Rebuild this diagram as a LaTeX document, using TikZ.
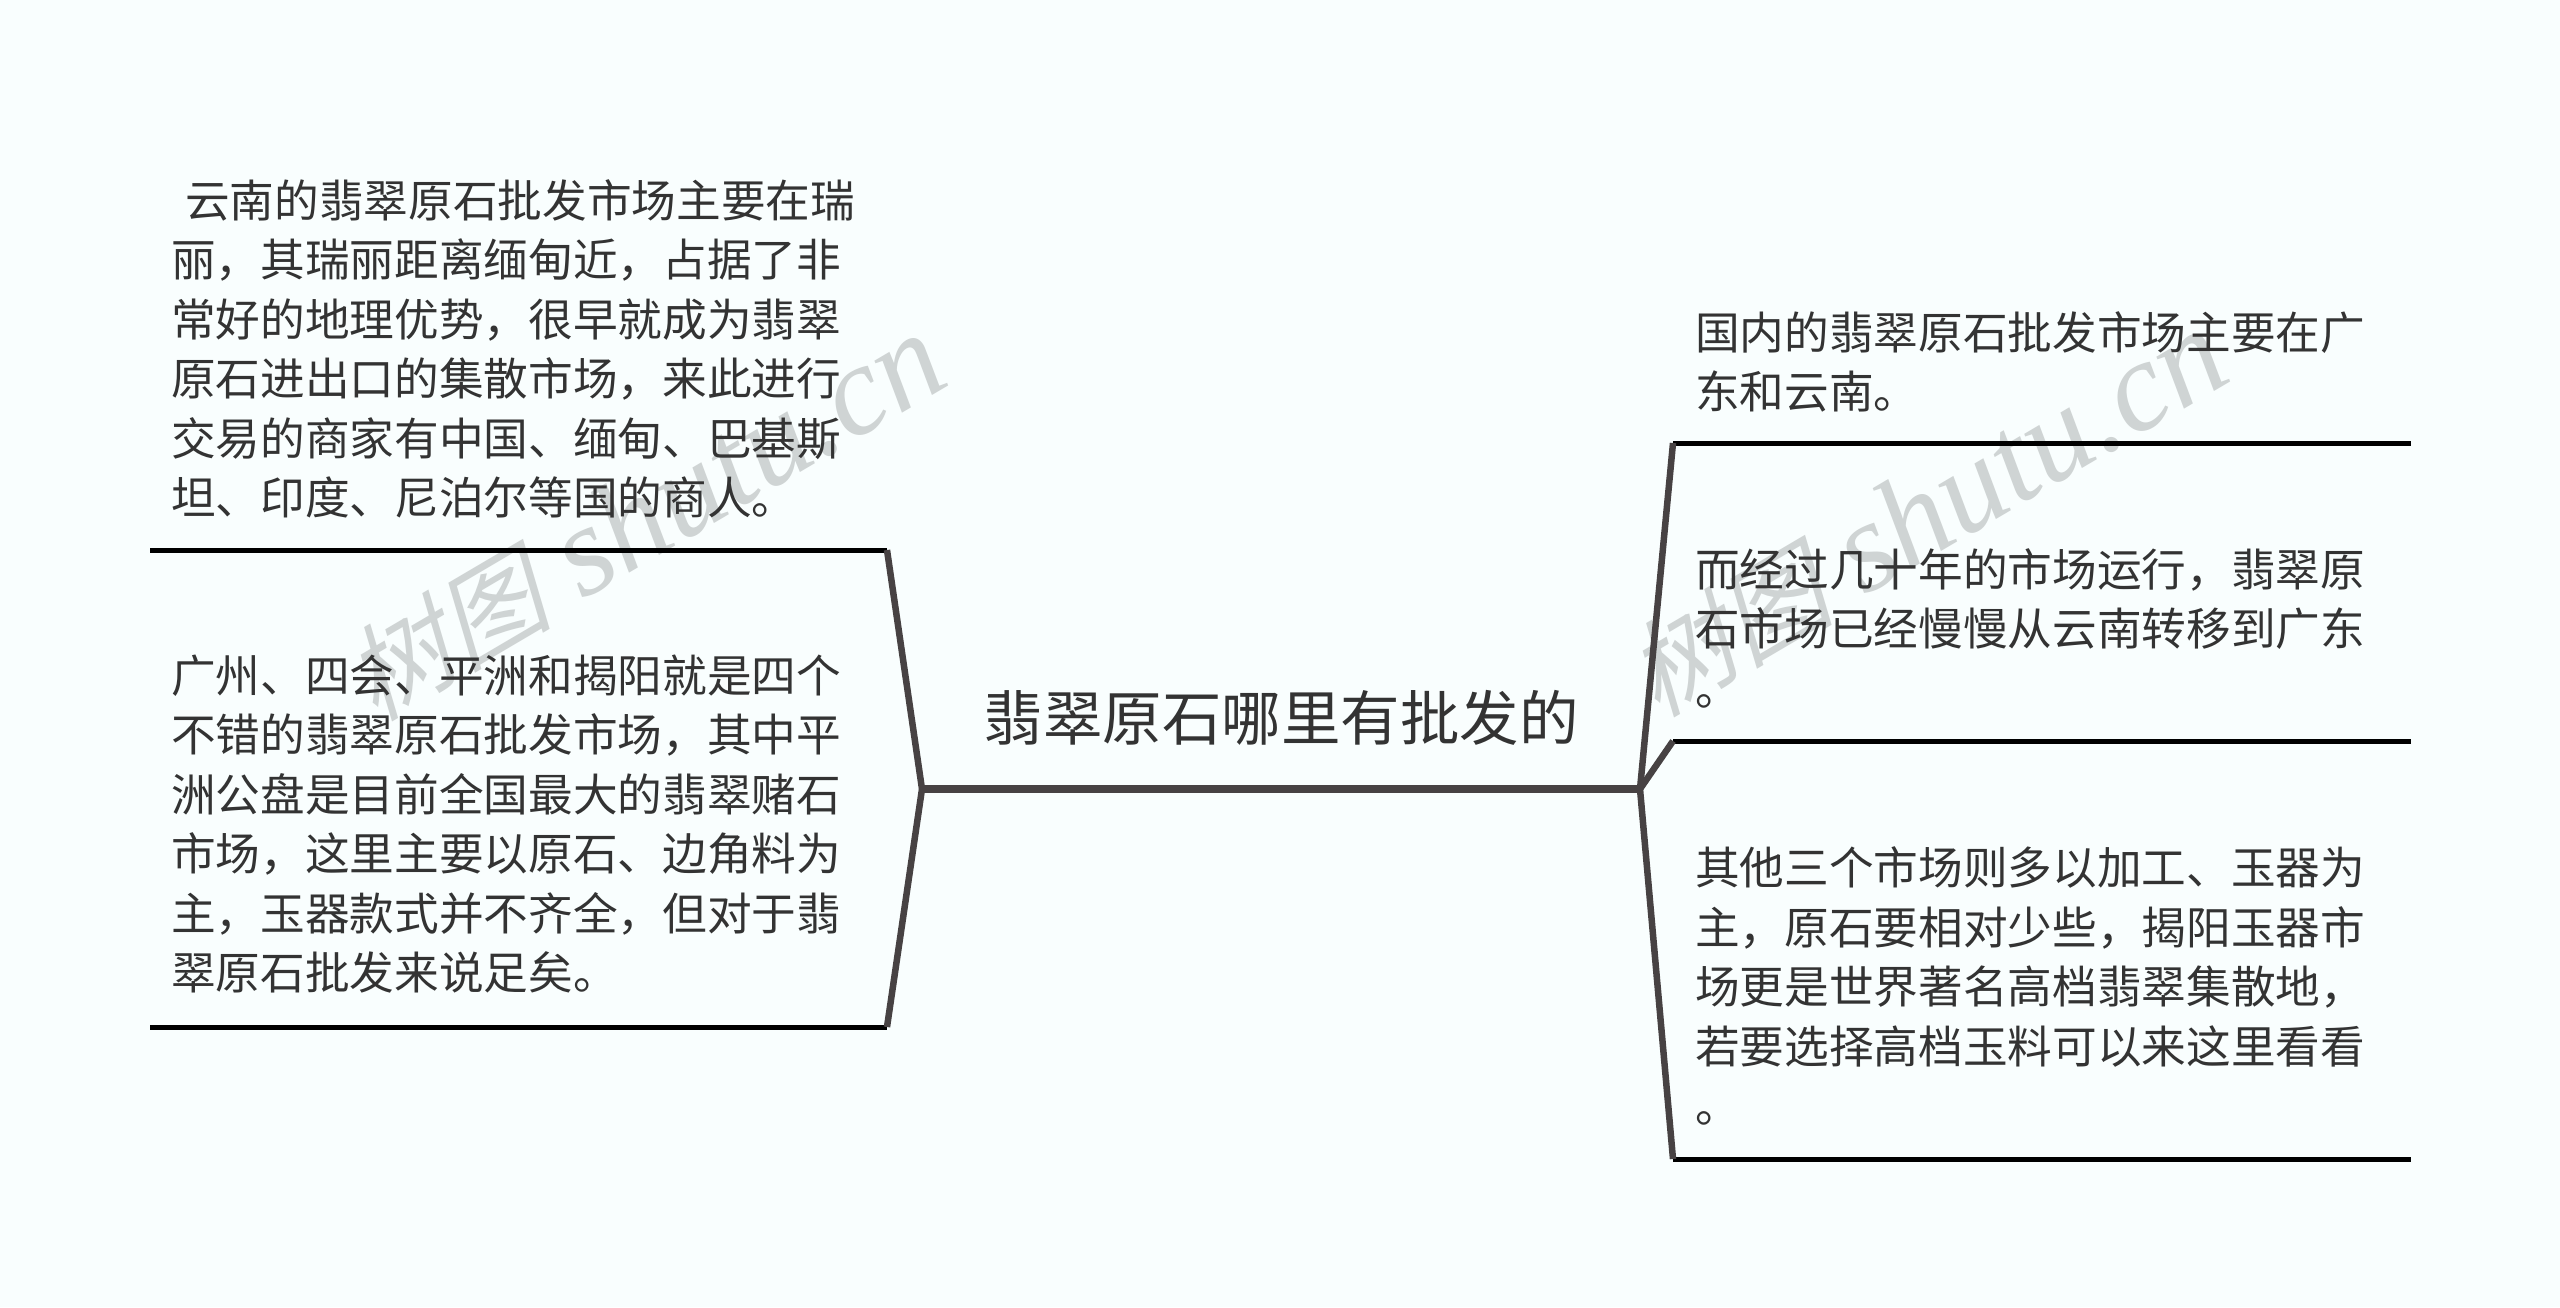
\documentclass[tikz,border=0pt]{standalone}
\usepackage{fontspec}
\setmainfont{Liberation Serif}
\newfontfamily\cjk{Noto Sans CJK SC}
\newfontfamily\cjkslant[FakeSlant=0.25]{Noto Sans CJK SC}
\definecolor{bgc}{HTML}{F9FEFE}
\definecolor{txt}{HTML}{333333}
\definecolor{branchc}{HTML}{474243}
\definecolor{wm}{HTML}{CFD4D4}
\tikzset{
  leaf/.style={anchor=west,inner sep=0pt,align=left,text=txt,font=\cjk\fontsize{44.65}{59.45}\selectfont},
  topic/.style={inner sep=0pt,text=txt,font=\cjk\fontsize{59.5}{70}\selectfont},
  branch/.style={draw=branchc,line width=6.5pt,line join=round},
  trunk/.style={draw=branchc,line width=7.5pt},
  under/.style={draw=black,line width=5pt},
  watermark/.style={rotate=30.5,text=wm,inner sep=0pt}
}
\begin{document}
\begin{tikzpicture}[x=1pt,y=-1pt]
\useasboundingbox[fill=bgc] (0,0) rectangle (2560,1307);
% watermarks
\node[watermark] (w1) at (644,518) {{\fontsize{104}{104}\selectfont\cjkslant 树图}\hspace{32pt}{\fontsize{128}{128}\selectfont\itshape shutu.cn}};
\node[watermark] (w2) at (1926,514) {{\fontsize{104}{104}\selectfont\cjkslant 树图}\hspace{32pt}{\fontsize{128}{128}\selectfont\itshape shutu.cn}};
% junctions and underline ends
\coordinate (jl) at (922,789);
\coordinate (jr) at (1640,789);
\coordinate (l1a) at (150,550);
\coordinate (l1b) at (887,550);
\coordinate (l2a) at (150,1027);
\coordinate (l2b) at (887,1027);
\coordinate (r1a) at (1673,443);
\coordinate (r1b) at (2411,443);
\coordinate (r2a) at (1673,741);
\coordinate (r2b) at (2411,741);
\coordinate (r3a) at (1673,1159);
\coordinate (r3b) at (2411,1159);
% connectors
\draw[under] (l1a) -- (l1b);
\draw[under] (l2a) -- (l2b);
\draw[under] (r1a) -- (r1b);
\draw[under] (r2a) -- (r2b);
\draw[under] (r3a) -- (r3b);
\draw[branch] (jl) -- (l1b);
\draw[branch] (jl) -- (l2b);
\draw[branch] (jr) -- (r1a);
\draw[branch] (jr) -- (r2a);
\draw[branch] (jr) -- (r3a);
\draw[trunk] (jl) -- (jr);
% texts
\node[topic] (root) at (1281,718) {翡翠原石哪里有批发的};
\node[leaf] (l1) at (171,349) {\hspace{14pt}云南的翡翠原石批发市场主要在瑞\\丽，其瑞丽距离缅甸近，占据了非\\常好的地理优势，很早就成为翡翠\\原石进出口的集散市场，来此进行\\交易的商家有中国、缅甸、巴基斯\\坦、印度、尼泊尔等国的商人。};
\node[leaf] (l2) at (171,824) {广州、四会、平洲和揭阳就是四个\\不错的翡翠原石批发市场，其中平\\洲公盘是目前全国最大的翡翠赌石\\市场，这里主要以原石、边角料为\\主，玉器款式并不齐全，但对于翡\\翠原石批发来说足矣。};
\node[leaf] (r1) at (1695,362) {国内的翡翠原石批发市场主要在广\\东和云南。};
\node[leaf] (r2) at (1695,628) {而经过几十年的市场运行，翡翠原\\石市场已经慢慢从云南转移到广东\\。};
\node[leaf] (r3) at (1695,986) {其他三个市场则多以加工、玉器为\\主，原石要相对少些，揭阳玉器市\\场更是世界著名高档翡翠集散地，\\若要选择高档玉料可以来这里看看\\。};
\end{tikzpicture}
\end{document}
